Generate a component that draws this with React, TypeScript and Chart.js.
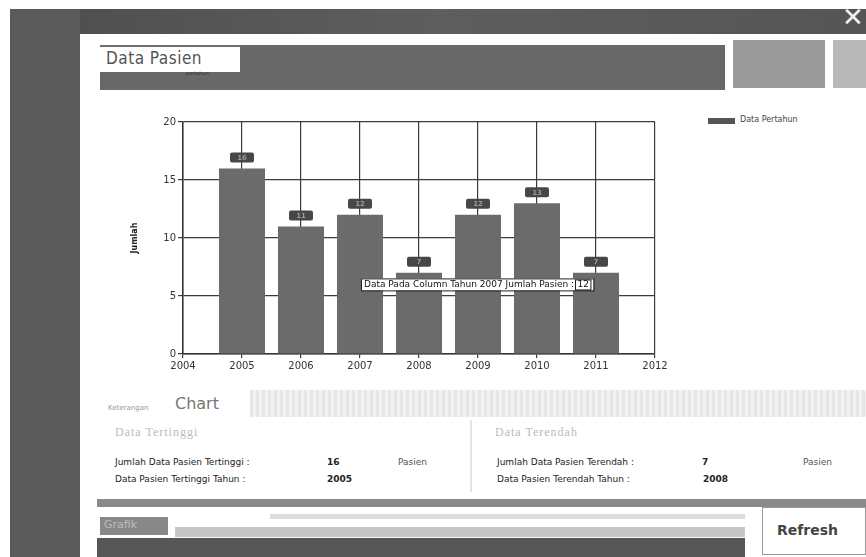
import React, { useEffect, useRef } from "react";
import { Chart, registerables } from "chart.js";

Chart.register(...registerables);

const years = [2005, 2006, 2007, 2008, 2009, 2010, 2011];
const patients = [16, 11, 12, 7, 12, 13, 7];
const yTickLabels = ["0", "5", "10", "15", "20"];
const xMin = 2004;
const xMax = 2012;
const seriesName = "Data Pertahun";
const noteYear = 2007;
const noteAnchorValue = 6;

const FONT = "'DejaVu Sans', Verdana, sans-serif";

const valueBoxPlugin = {
  id: "valueBoxes",
  afterDatasetsDraw(chart: any) {
    const ctx = chart.ctx;
    const meta = chart.getDatasetMeta(0);
    ctx.save();
    meta.data.forEach((bar: any, i: number) => {
      const cx = bar.x;
      const cy = bar.y - 11;
      const w = 24;
      const h = 10;
      ctx.fillStyle = "#474747";
      ctx.beginPath();
      (ctx as any).roundRect(cx - w / 2, cy - h / 2, w, h, 2);
      ctx.fill();
      ctx.fillStyle = "#9a9a9a";
      ctx.font = `bold 7px ${FONT}`;
      ctx.textAlign = "center";
      ctx.textBaseline = "middle";
      ctx.fillText(String(patients[i]), cx, cy + 0.5);
    });
    // annotation note
    const xs = chart.scales.x;
    const ys = chart.scales.y;
    const idx = years.indexOf(noteYear);
    const main = `Data Pada Column Tahun ${noteYear} Jumlah Pasien : `;
    const val = String(patients[idx]);
    ctx.font = `9px ${FONT}`;
    const w1 = ctx.measureText(main).width;
    const w2 = ctx.measureText(val).width;
    const x0 = xs.getPixelForValue(noteYear) + 1;
    const y0 = ys.getPixelForValue(noteAnchorValue) - 6;
    const totalW = w1 + w2 + 8;
    ctx.fillStyle = "#ffffff";
    ctx.fillRect(x0, y0, totalW, 12);
    ctx.strokeStyle = "#222";
    ctx.lineWidth = 1;
    ctx.strokeRect(x0 + 0.5, y0 + 0.5, totalW, 12);
    ctx.strokeRect(x0 + w1 + 1.5, y0 + 1.5, w2 + 4, 10);
    ctx.fillStyle = "#111";
    ctx.textAlign = "left";
    ctx.textBaseline = "middle";
    ctx.fillText(main, x0 + 3, y0 + 6.5);
    ctx.fillText(val, x0 + w1 + 3.5, y0 + 6.5);
    ctx.restore();
  },
};

function BarChart() {
  const ref = useRef<HTMLCanvasElement>(null);
  useEffect(() => {
    if (!ref.current) return;
    const chart = new Chart(ref.current, {
      type: "bar",
      data: {
        datasets: [
          {
            label: seriesName,
            data: years.map((y, i) => ({ x: y, y: patients[i] })),
            backgroundColor: "#6b6b6b",
            borderWidth: 0,
            barPercentage: 0.78,
            categoryPercentage: 1,
          },
        ],
      },
      options: {
        animation: false,
        responsive: false,
        maintainAspectRatio: false,
        layout: { padding: { top: 12, right: 25, left: 0, bottom: 0 } },
        plugins: {
          legend: { display: false },
          tooltip: { enabled: false },
        },
        scales: {
          x: {
            type: "linear",
            min: xMin,
            max: xMax,
            offset: false,
            ticks: {
              stepSize: 1,
              autoSkip: false,
              maxRotation: 0,
              color: "#333",
              font: { family: FONT, size: 10 },
              padding: 2,
              callback: (v: any) => String(v),
            },
            grid: { color: "#3c3c3c", lineWidth: 1.2, tickLength: 4, drawOnChartArea: true, offset: false },
            border: { color: "#333", width: 1.5 },
            afterFit: (s: any) => {
              s.height = 20;
            },
          },
          y: {
            min: 0,
            max: 20,
            ticks: {
              stepSize: 5,
              color: "#333",
              font: { family: FONT, size: 10 },
              padding: 2,
              callback: (v: any) => yTickLabels[Math.round(Number(v) / 5)] ?? "",
            },
            grid: { color: "#3c3c3c", lineWidth: 1.2, tickLength: 5 },
            border: { color: "#333", width: 1.5 },
            title: {
              display: true,
              text: "Jumlah",
              color: "#222",
              font: { family: FONT, size: 8, weight: "bold" },
              padding: 0,
            },
            afterFit: (s: any) => {
              s.width = 53;
            },
          },
        },
      } as any,
      plugins: [valueBoxPlugin],
    });
    return () => chart.destroy();
  }, []);
  return (
    <canvas
      ref={ref}
      width={550}
      height={264}
      style={{ position: "absolute", left: 130, top: 110, width: 550, height: 264 }}
    />
  );
}

const abs = (l: number, t: number, w: number, h: number, extra: React.CSSProperties = {}): React.CSSProperties => ({
  position: "absolute",
  left: l,
  top: t,
  width: w,
  height: h,
  ...extra,
});

export default function App() {
  const maxV = Math.max(...patients);
  const maxYear = years[patients.indexOf(maxV)];
  const minV = Math.min(...patients);
  const minYear = years[patients.indexOf(minV)];
  const rowFont: React.CSSProperties = {
    position: "absolute",
    fontFamily: FONT,
    fontSize: 9,
    color: "#222",
    whiteSpace: "nowrap",
  };
  return (
    <div style={{ position: "absolute", left: 0, top: 0, width: 866, height: 557, background: "#fff", overflow: "hidden", fontFamily: FONT }}>
      {/* window frame */}
      <div style={abs(10, 9, 856, 25, { background: "linear-gradient(90deg,#4d4d4d,#5e5e5e 50%,#555)" })} />
      <div style={abs(10, 9, 70, 548, { background: "#5a5a5a" })} />
      <div style={{ position: "absolute", left: 842, top: 2, color: "#f2f2f2", fontSize: 26, fontFamily: FONT, lineHeight: "30px" }}>✕</div>

      {/* header */}
      <div style={abs(100, 45, 625, 45, { background: "#686868" })} />
      <div style={abs(100, 45, 140, 1, { background: "#777" })} />
      <div style={abs(100, 47, 140, 25, { background: "#fff" })} />
      <div style={{ position: "absolute", left: 106, top: 48, fontFamily: "'DejaVu Sans Condensed','DejaVu Sans',sans-serif", fontSize: 17, color: "#555", letterSpacing: 0.5 }}>Data Pasien</div>
      <div style={{ position: "absolute", left: 186, top: 70, fontSize: 5, color: "#333" }}>pertahun</div>
      <div style={abs(733, 40, 92, 48, { background: "#9a9a9a" })} />
      <div style={abs(833, 40, 33, 48, { background: "#b8b8b8" })} />

      {/* legend */}
      <div style={abs(708, 118, 27, 6, { background: "#555" })} />
      <div style={{ position: "absolute", left: 740, top: 115, fontSize: 8, color: "#444", fontFamily: FONT }}>{seriesName}</div>

      <BarChart />

      {/* keterangan chart */}
      <div style={abs(250, 390, 616, 27, { background: "repeating-linear-gradient(90deg,#e6e6e6 0 3px,#f2f2f2 3px 6px)" })} />
      <div style={{ position: "absolute", left: 108, top: 404, fontSize: 7, color: "#999" }}>Keterangan</div>
      <div style={{ position: "absolute", left: 175, top: 394, fontSize: 16, color: "#777" }}>Chart</div>
      <div style={{ position: "absolute", left: 115, top: 425, fontSize: 12, color: "#bbb", fontFamily: "'Liberation Serif',serif", letterSpacing: 1 }}>Data Tertinggi</div>
      <div style={{ position: "absolute", left: 495, top: 425, fontSize: 12, color: "#bbb", fontFamily: "'Liberation Serif',serif", letterSpacing: 1 }}>Data Terendah</div>
      <div style={abs(470, 420, 2, 72, { background: "#e4e4e4" })} />

      <div style={{ ...rowFont, left: 115, top: 457 }}>Jumlah Data Pasien Tertinggi :</div>
      <div style={{ ...rowFont, left: 327, top: 457, fontWeight: "bold" }}>{maxV}</div>
      <div style={{ ...rowFont, left: 398, top: 457, color: "#555" }}>Pasien</div>
      <div style={{ ...rowFont, left: 115, top: 474 }}>Data Pasien Tertinggi Tahun :</div>
      <div style={{ ...rowFont, left: 327, top: 474, fontWeight: "bold" }}>{maxYear}</div>

      <div style={{ ...rowFont, left: 497, top: 457 }}>Jumlah Data Pasien Terendah :</div>
      <div style={{ ...rowFont, left: 702, top: 457, fontWeight: "bold" }}>{minV}</div>
      <div style={{ ...rowFont, left: 803, top: 457, color: "#555" }}>Pasien</div>
      <div style={{ ...rowFont, left: 497, top: 474 }}>Data Pasien Terendah Tahun  :</div>
      <div style={{ ...rowFont, left: 703, top: 474, fontWeight: "bold" }}>{minYear}</div>

      {/* bottom bars */}
      <div style={abs(97, 499, 769, 8, { background: "#8a8a8a" })} />
      <div style={abs(100, 517, 68, 18, { background: "#888" })} />
      <div style={{ position: "absolute", left: 104, top: 518, fontSize: 11, color: "#bbb" }}>Grafik</div>
      <div style={abs(270, 514, 475, 5, { background: "#dcdcdc" })} />
      <div style={abs(175, 527, 570, 10, { background: "#c6c6c6" })} />
      <div style={abs(97, 538, 648, 19, { background: "#565656" })} />
      <div style={abs(762, 507, 104, 48, { background: "#fff", border: "1px solid #999", boxSizing: "border-box" })} />
      <div style={{ position: "absolute", left: 777, top: 522, fontSize: 14, color: "#444", fontFamily: FONT, fontWeight: "bold" }}>Refresh</div>
    </div>
  );
}
